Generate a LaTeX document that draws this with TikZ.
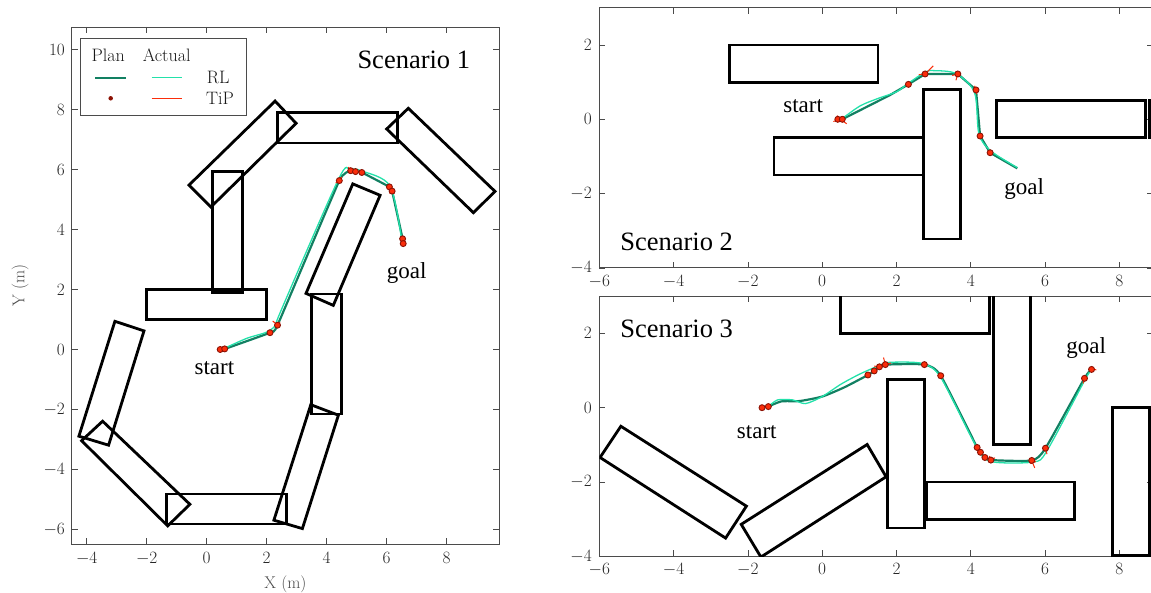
\documentclass[tikz,border=0pt]{standalone}
\usepackage{fontspec}
\newfontfamily\tnr{Liberation Serif}
\definecolor{planc}{RGB}{18,128,98}
\definecolor{actc}{RGB}{35,225,170}
\definecolor{tipc}{RGB}{250,45,10}
\definecolor{dotc}{RGB}{140,18,5}
\definecolor{axc}{RGB}{75,75,75}
\tikzset{
 obst/.style={draw=black, line width=2.8pt, line join=miter},
 axframe/.style={draw=axc, line width=0.9pt},
 tickmark/.style={draw=axc, line width=0.7pt},
 ticklbl/.style={text=black!85, font=\fontsize{17}{20}\selectfont, inner sep=0pt},
 ticklbls/.style={text=black!85, font=\fontsize{16}{19}\selectfont, inner sep=0pt},
 axlbl/.style={text=black!70, font=\fontsize{17}{20}\selectfont, inner sep=0pt},
 leg/.style={text=black!90, font=\fontsize{18}{21}\selectfont, inner sep=0pt},
 bigtxt/.style={font=\tnr\fontsize{26.5}{30}\selectfont, inner sep=0pt},
 sgtxt/.style={font=\tnr\fontsize{23}{26}\selectfont, inner sep=0pt},
 planline/.style={draw=planc, line width=2.2pt},
 actline/.style={draw=actc, line width=1.3pt},
 tipline/.style={draw=tipc, line width=1pt},
 wp/.style={circle, fill=tipc, draw=dotc, line width=0.9pt, inner sep=0pt, minimum size=6pt},
 legdot/.style={circle, fill=dotc, inner sep=0pt, minimum size=4.5pt},
}
\begin{document}
\begin{tikzpicture}[x=1pt,y=1pt]
\useasboundingbox (0,0) rectangle (1151,593);

% ================= Scenario 1 =================
\begin{scope}[shift={(206.7,243.5)},x=30pt,y=30pt]
 \draw[axframe] (-4.5,-6.5) rectangle (9.75,10.75);
 \foreach \t in {-4,-2,...,8}{
   \draw[tickmark] (\t,-6.5) -- ++(0,6pt);
   \draw[tickmark] (\t,10.75) -- ++(0,-6pt);
   \node[ticklbl,anchor=base] (p1x\t) at (\t,-7.12) {$\t$};
 }
 \foreach \t in {-6,-4,...,10}{
   \draw[tickmark] (-4.5,\t) -- ++(6pt,0);
   \draw[tickmark] (9.75,\t) -- ++(-6pt,0);
   \node[ticklbl,anchor=east] (p1y\t) at (-4.72,\t) {$\t$};
 }
 \node[axlbl] (xlab) at (2.625,-7.82) {X (m)};
 \node[axlbl,rotate=90] (ylab) at (-6.22,2.125) {Y (m)};
 % obstacles
 \draw[obst] (2.35,6.88) rectangle (6.35,7.89);
 \draw[obst] (-0.59,5.48) -- (2.28,8.28) -- (2.98,7.54) -- (0.14,4.75) -- cycle;
 \draw[obst] (0.18,1.9) rectangle (1.18,5.92);
 \draw[obst] (-2,1) rectangle (2,2);
 \draw[obst] (6.0,7.35) -- (6.72,8.04) -- (9.61,5.27) -- (8.89,4.56) -- cycle;
 \draw[obst] (3.31,1.87) -- (4.87,5.52) -- (5.78,5.14) -- (4.22,1.47) -- cycle;
 \draw[obst] (3.5,-2.15) rectangle (4.5,1.85);
 \draw[obst] (2.24,-5.69) -- (3.47,-1.84) -- (4.39,-2.19) -- (3.19,-5.97) -- cycle;
 \draw[obst] (-1.33,-5.82) rectangle (2.67,-4.82);
 \draw[obst] (-4.17,-3.04) -- (-3.47,-2.39) -- (-0.56,-5.16) -- (-1.3,-5.88) -- cycle;
 \draw[obst] (-4.26,-2.89) -- (-3.06,0.94) -- (-2.09,0.62) -- (-3.27,-3.19) -- cycle;
 % trajectories
 \draw[planline] plot[smooth,tension=0.2] coordinates {(0.55,0) (2.11,0.56) (2.36,0.81) (4.42,5.63) (4.8,5.96) (5.17,5.9) (6.09,5.42) (6.18,5.28) (6.53,3.69)};
 \draw[actline] plot[smooth,tension=0.5] coordinates {(0.55,0.02) (1.33,0.37) (2.0,0.58) (2.33,0.84) (2.44,1.21) (4.39,5.67) (4.78,6.0) (5.17,5.95) (6.11,5.45) (6.5,3.65)};
 \draw[tipline] (2.2,0.95) -- (2.36,0.81) -- (2.45,0.9);
 \draw[tipline] (4.3,5.55) -- (4.42,5.63) -- (4.5,5.75);
 \draw[tipline] (4.72,6.08) -- (4.8,5.96) -- (4.92,6.02);
 \draw[tipline] (6.1,5.2) -- (6.18,5.28) -- (6.26,5.2);
 \foreach \p [count=\i] in {(0.45,0),(0.6,0.02),(2.11,0.56),(2.36,0.81),(4.42,5.63),(4.8,5.96),(4.96,5.93),(5.17,5.9),(6.09,5.42),(6.18,5.28),(6.53,3.69),(6.55,3.53)}
   \node[wp] (a\i) at \p {};
 \node[sgtxt,anchor=base west] (start1) at (-0.41,-0.84) {start};
 \node[sgtxt,anchor=base west] (goal1) at (6.0,2.38) {goal};
 \node[bigtxt,anchor=base west] (scen1) at (5.02,9.35) {Scenario 1};
\end{scope}

% legend
\draw[axframe] (80.7,478) rectangle (246.7,554.7);
\node[leg] (lgplan) at (108.3,538) {Plan};
\node[leg] (lgact) at (166.7,538) {Actual};
\draw[planline] (95,515.3) -- (126,515.3);
\draw[actline] (151.7,515.3) -- (181.7,515.3);
\node[leg] (lgrl) at (218.3,515.3) {RL};
\node[legdot] (lgdot) at (110.7,494.7) {};
\draw[tipline] (151.7,494.7) -- (181.7,494.7);
\node[leg] (lgtip) at (220,494.7) {TiP};

% ================= Scenario 2 =================
\begin{scope}[shift={(822.2,473.7)},x=37.15pt,y=37.15pt]
 \draw[axframe] (-6,-4) rectangle (8.9,3);
 \foreach \t in {-6,-4,...,8}{
   \draw[tickmark] (\t,-4) -- ++(0,6pt);
   \draw[tickmark] (\t,3) -- ++(0,-6pt);
   \node[ticklbls,anchor=base] (p2x\t) at (\t,-4.5) {$\t$};
 }
 \foreach \t in {-4,-2,...,2}{
   \draw[tickmark] (-6,\t) -- ++(6pt,0);
   \draw[tickmark] (8.9,\t) -- ++(-6pt,0);
   \node[ticklbls,anchor=east] (p2y\t) at (-6.2,\t) {$\t$};
 }
 \begin{scope}
 \clip (-6,-4) rectangle (8.9,3);
 \draw[obst] (-2.5,1) rectangle (1.5,2);
 \draw[obst] (-1.3,-1.5) rectangle (2.72,-0.5);
 \draw[obst] (2.72,-3.22) rectangle (3.72,0.8);
 \draw[obst] (4.7,-0.5) rectangle (8.7,0.5);
 \draw[obst] (8.82,-0.5) rectangle (12.8,0.5);
 \end{scope}
 \draw[planline] (0.54,0) -- (1.82,0.65) -- (2.32,0.94) -- (2.77,1.22) -- (3.65,1.22) -- (4.14,0.79) -- (4.25,-0.45) -- (4.52,-0.9) -- (5.25,-1.32);
 \draw[actline] plot[smooth,tension=0.5] coordinates {(0.54,0.02) (1.02,0.36) (1.5,0.56) (2.0,0.74) (2.32,0.97) (2.77,1.27) (3.0,1.31) (3.6,1.23) (4.1,0.72) (4.22,-0.4) (4.55,-0.86) (5.25,-1.3)};
 \draw[tipline] (0.3,-0.06) -- (0.48,0) -- (0.66,-0.12);
 \draw[tipline] (0.4,0.1) -- (0.48,0) -- (0.58,0.08);
 \draw[tipline] (2.6,1.2) -- (2.77,1.22) -- (2.99,1.44);
 \draw[tipline] (3.5,1.18) -- (3.65,1.22) -- (3.6,1.05);
 \draw[tipline] (4.1,0.9) -- (4.14,0.79) -- (4.16,0.68);
 \draw[tipline] (4.2,-0.52) -- (4.25,-0.45);
 \foreach \p [count=\i] in {(0.42,0),(0.54,0),(2.32,0.94),(2.77,1.22),(3.65,1.22),(4.14,0.79),(4.25,-0.45),(4.52,-0.9)}
   \node[wp] (b\i) at \p {};
 \node[sgtxt,anchor=base west] (start2) at (-1.05,0.18) {start};
 \node[sgtxt,anchor=base west] (goal2) at (4.9,-2.03) {goal};
 \node[bigtxt,anchor=base west] (scen2) at (-5.44,-3.54) {Scenario 2};
\end{scope}

% ================= Scenario 3 =================
\begin{scope}[shift={(822.2,185.3)},x=37.15pt,y=37.15pt]
 \draw[axframe] (-6,-4) rectangle (8.9,3);
 \foreach \t in {-6,-4,...,8}{
   \draw[tickmark] (\t,-4) -- ++(0,6pt);
   \draw[tickmark] (\t,3) -- ++(0,-6pt);
   \node[ticklbls,anchor=base] (p3x\t) at (\t,-4.5) {$\t$};
 }
 \foreach \t in {-4,-2,...,2}{
   \draw[tickmark] (-6,\t) -- ++(6pt,0);
   \draw[tickmark] (8.9,\t) -- ++(-6pt,0);
   \node[ticklbls,anchor=east] (p3y\t) at (-6.2,\t) {$\t$};
 }
 \begin{scope}
 \clip (-6,-4) rectangle (8.9,3);
 \draw[obst] (0.5,2) rectangle (4.5,3.5);
 \draw[obst] (4.6,-1) rectangle (5.6,3.5);
 \draw[obst] (1.75,-3.24) rectangle (2.75,0.75);
 \draw[obst] (2.81,-3) rectangle (6.79,-2);
 \draw[obst] (7.81,-3.98) rectangle (8.82,0);
 \draw[obst] (-5.98,-1.34) -- (-5.42,-0.5) -- (-2.04,-2.65) -- (-2.6,-3.51) -- cycle;
 \draw[obst] (-2.18,-3.14) -- (1.21,-0.99) -- (1.72,-1.86) -- (-1.65,-4.02) -- cycle;
 \end{scope}
 \draw[planline] plot[smooth,tension=0.35] coordinates {(-1.45,0.03) (-1.1,0.17) (-0.6,0.18) (0,0.3) (0.6,0.55) (1.23,0.88) (1.4,0.99) (1.54,1.1) (1.7,1.16) (2.75,1.16) (3.19,0.86) (4.17,-1.07) (4.26,-1.2) (4.38,-1.34) (4.54,-1.41) (5.64,-1.42) (6.01,-1.09) (7.06,0.79) (7.25,1.03)};
 \draw[actline] plot[smooth,tension=0.45] coordinates {(-1.45,0.03) (-1.2,0.21) (-0.8,0.21) (-0.45,0.11) (0,0.3) (0.5,0.63) (1.0,0.9) (1.5,1.12) (1.8,1.22) (2.7,1.19) (3.2,0.8) (4.2,-1.14) (4.6,-1.46) (5.7,-1.46) (6.05,-1.16) (7.1,0.8) (7.28,1.05)};
 \draw[tipline] (1.65,1.35) -- (1.7,1.16) -- (1.85,1.2);
 \draw[tipline] (1.4,1.12) -- (1.54,1.1);
 \draw[tipline] (4.5,-1.3) -- (4.54,-1.41) -- (4.65,-1.35);
 \draw[tipline] (5.64,-1.42) -- (5.72,-1.62);
 \draw[tipline] (5.6,-1.5) -- (5.75,-1.45);
 \draw[tipline] (6.01,-1.09) -- (6.05,-1.25);
 \draw[tipline] (7.06,0.79) -- (7.02,0.65);
 \draw[tipline] (7.25,1.03) -- (7.38,1.02);
 \foreach \p [count=\i] in {(-1.62,0),(-1.45,0.03),(1.23,0.88),(1.4,0.99),(1.54,1.1),(1.7,1.16),(2.75,1.16),(3.19,0.86),(4.17,-1.07),(4.26,-1.2),(4.38,-1.34),(4.54,-1.41),(5.64,-1.42),(6.01,-1.09),(7.06,0.79),(7.25,1.03)}
   \node[wp] (c\i) at \p {};
 \node[sgtxt,anchor=base west] (start3) at (-2.3,-0.82) {start};
 \node[sgtxt,anchor=base west] (goal3) at (6.57,1.45) {goal};
 \node[bigtxt,anchor=base west] (scen3) at (-5.44,1.9) {Scenario 3};
\end{scope}
\end{tikzpicture}
\end{document}
